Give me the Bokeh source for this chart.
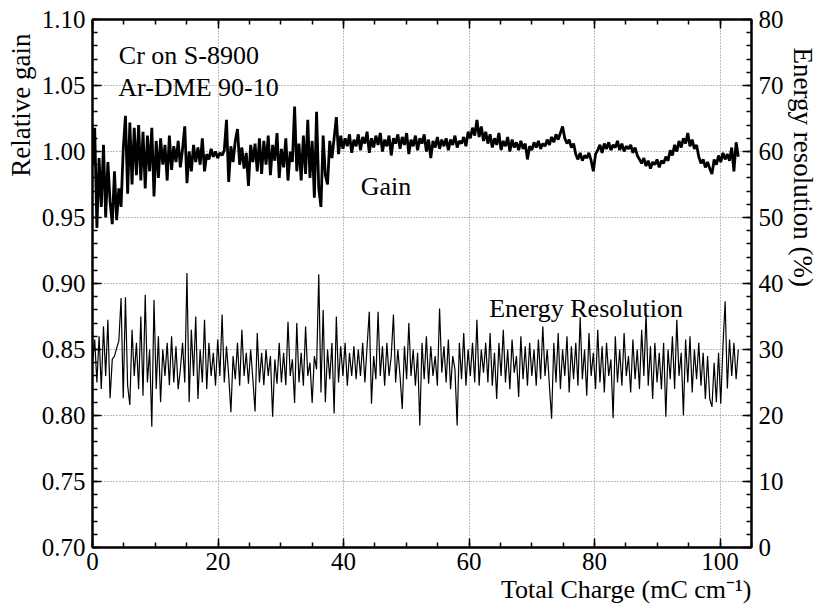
from bokeh.plotting import figure
from bokeh.models import (Range1d, LinearAxis, Label, SingleIntervalTicker,
                          NumeralTickFormatter, ColumnDataSource, Title)
from bokeh.embed import file_html
from bokeh.resources import INLINE

# ---------------- data ----------------
charge_step = 0.35  # mC/cm between successive samples

gain = [
    0.990, 1.018, 0.942, 0.995, 0.958, 1.005, 0.950, 0.992, 0.962, 0.945, 0.985, 0.948, 0.972, 0.958, 1.002, 1.027, 0.968, 1.022, 0.975, 1.018,
    0.982, 1.020, 0.978, 1.015, 0.972, 1.012, 0.985, 1.018, 0.966, 1.008, 0.980, 1.010, 0.990, 1.005, 0.978, 1.012, 0.986, 1.004, 0.992, 1.008,
    0.988, 1.002, 1.019, 0.976, 1.000, 0.985, 1.005, 0.992, 1.003, 0.990, 1.010, 0.985, 0.998, 0.994, 1.002, 0.996, 1.000, 0.995, 0.999, 0.997,
    1.001, 1.024, 0.977, 1.004, 0.992, 1.008, 1.017, 0.990, 1.003, 0.987, 0.999, 0.974, 1.005, 0.992, 1.006, 0.985, 1.010, 0.983, 1.008, 0.990,
    1.012, 0.982, 1.005, 0.993, 1.014, 0.980, 1.002, 0.988, 1.010, 0.978, 1.000, 0.992, 1.034, 0.985, 1.006, 0.978, 1.012, 0.983, 1.024, 0.980,
    1.008, 0.965, 1.030, 0.972, 0.958, 1.012, 0.982, 0.975, 1.008, 0.995, 1.010, 1.026, 0.998, 1.012, 1.002, 1.010, 1.004, 1.013, 0.999, 1.009,
    1.004, 1.013, 1.001, 1.011, 1.006, 1.015, 0.999, 1.010, 1.003, 1.012, 1.005, 1.014, 1.000, 1.009, 1.004, 1.012, 0.997, 1.010, 1.006, 1.013,
    1.002, 1.011, 1.005, 1.014, 0.998, 1.009, 1.004, 1.012, 1.001, 1.010, 1.006, 1.013, 1.000, 1.009, 0.995, 1.008, 1.003, 1.011, 1.002, 1.009,
    1.004, 1.010, 1.001, 1.009, 1.005, 1.012, 1.003, 1.008, 1.006, 1.011, 1.004, 1.015, 1.010, 1.018, 1.012, 1.024, 1.011, 1.019, 1.008, 1.015,
    1.006, 1.013, 1.003, 1.010, 1.005, 1.014, 1.001, 1.008, 1.004, 1.011, 1.000, 1.009, 1.003, 1.007, 1.001, 1.008, 1.002, 1.006, 0.994, 1.004,
    1.001, 1.007, 1.003, 1.008, 1.002, 1.006, 1.004, 1.009, 1.005, 1.011, 1.007, 1.013, 1.009, 1.014, 1.019, 1.010, 1.006, 1.009, 1.003, 1.006,
    0.998, 0.994, 0.999, 0.993, 0.997, 0.995, 0.999, 0.993, 0.985, 0.998, 1.001, 1.005, 0.999, 1.006, 1.002, 1.007, 1.001, 1.005, 1.003, 1.008,
    1.001, 1.006, 1.000, 1.004, 1.002, 1.005, 0.999, 1.003, 0.997, 0.994, 0.991, 0.995, 0.989, 0.993, 0.987, 0.992, 0.990, 0.994, 0.988, 0.993,
    0.991, 0.996, 0.993, 1.001, 0.997, 1.005, 1.000, 1.008, 1.003, 1.010, 1.006, 1.014, 1.004, 1.009, 1.002, 1.005, 0.996, 0.991, 0.994, 0.988,
    0.992, 0.987, 0.983, 0.994, 0.990, 0.997, 0.992, 0.999, 0.994, 0.998, 0.993, 1.003, 0.985, 1.007, 0.996,
]

energy_resolution = [
    28.0, 31.5, 25.0, 32.0, 24.0, 33.5, 26.0, 34.5, 22.6, 28.5, 29.0, 30.2, 31.3, 37.8, 22.6, 37.9, 24.5, 21.6, 33.0, 26.0,
    31.0, 24.0, 35.0, 23.0, 38.3, 25.0, 30.0, 18.3, 37.5, 24.0, 32.0, 22.0, 30.0, 26.0, 31.0, 24.6, 32.0, 25.0, 30.5, 24.0,
    27.0, 31.0, 25.0, 41.6, 22.0, 33.0, 26.0, 35.0, 22.5, 30.0, 25.0, 34.5, 24.0, 31.0, 26.0, 29.5, 24.5, 31.5, 26.0, 35.3,
    25.0, 30.5, 26.0, 20.5, 29.0, 25.5, 31.0, 24.5, 33.0, 26.0, 29.5, 24.8, 30.0, 25.5, 20.6, 32.5, 25.0, 29.5, 24.6, 30.0,
    26.0, 29.0, 19.8, 28.5, 24.8, 31.0, 25.0, 29.5, 24.6, 34.2, 26.0, 28.5, 21.9, 34.0, 25.0, 29.5, 24.5, 33.5, 26.0, 28.0,
    21.9, 29.0, 27.0, 41.4, 23.5, 36.0, 22.0, 30.0, 25.5, 31.0, 20.3, 35.0, 25.0, 30.5, 26.0, 31.0, 24.5, 29.5, 26.0, 30.5,
    25.5, 30.0, 26.0, 31.0, 25.0, 30.5, 35.7, 21.8, 29.0, 25.5, 35.7, 26.0, 30.5, 24.5, 31.0, 26.0, 29.0, 35.3, 25.0, 30.0,
    26.0, 21.0, 30.5, 25.5, 34.0, 26.0, 30.0, 24.5, 29.5, 18.5, 31.0, 25.5, 32.0, 24.8, 30.5, 26.0, 29.0, 24.5, 36.2, 26.5,
    30.5, 25.0, 31.5, 24.0, 29.0, 27.0, 18.5, 31.0, 25.5, 32.5, 24.5, 30.0, 26.0, 31.0, 25.0, 34.5, 24.5, 30.0, 26.5, 31.0,
    25.0, 32.5, 24.5, 29.5, 22.5, 31.0, 26.0, 33.0, 25.0, 30.0, 24.0, 31.5, 26.5, 29.0, 22.8, 32.0, 25.5, 30.5, 24.5, 31.0,
    26.0, 30.0, 24.5, 31.5, 25.5, 33.5, 26.0, 30.0, 24.5, 19.5, 31.0, 25.0, 32.5, 24.0, 30.0, 26.0, 32.0, 23.5, 30.5, 25.5,
    31.0, 24.5, 34.9, 25.5, 30.0, 23.0, 32.5, 26.0, 29.5, 24.0, 33.0, 25.0, 30.5, 23.5, 31.0, 26.0, 28.5, 19.6, 32.0, 25.0,
    30.0, 24.5, 32.5, 26.0, 29.0, 23.5, 31.5, 25.5, 30.0, 24.0, 33.0, 26.0, 35.5, 24.5, 30.5, 22.5, 31.0, 25.0, 29.5, 24.0,
    31.0, 19.8, 30.0, 25.5, 32.0, 24.0, 34.5, 26.0, 29.5, 20.0, 31.5, 25.0, 32.0, 23.5, 30.0, 25.5, 31.0, 24.5, 29.5, 22.5,
    29.0, 22.5, 21.3, 28.0, 22.0, 29.5, 21.8, 30.5, 37.3, 24.1, 31.5, 26.0, 31.0, 25.5, 30.0,
]

gain_charge = [round(i * charge_step, 3) for i in range(len(gain))]
er_charge = [round(i * charge_step, 3) for i in range(len(energy_resolution))]

x_range_limits = (0, 105)
gain_range_limits = (0.70, 1.10)
er_range_limits = (0, 80)

annotations = ["Cr on S-8900", "Ar-DME 90-10", "Gain", "Energy Resolution"]
x_title = "Total Charge (mC cm\u207b\u00b9)"
left_title = "Relative gain"
right_title = "Energy resolution (%)"

# ---------------- figure ----------------
FONT = "Liberation Serif"

p = figure(width=822, height=610,
           x_range=Range1d(*x_range_limits), y_range=Range1d(*gain_range_limits),
           output_backend="svg", toolbar_location=None,
           min_border_left=92, min_border_right=71, min_border_top=19, min_border_bottom=63,
           background_fill_color="white", border_fill_color="white")
p.outline_line_color = "black"
p.outline_line_width = 2
p.extra_y_ranges = {"er": Range1d(*er_range_limits)}


def style_axis(ax, show_labels=True):
    ax.axis_line_width = 2
    ax.axis_line_color = "black"
    ax.major_tick_in = 9
    ax.major_tick_out = 0
    ax.minor_tick_in = 5
    ax.minor_tick_out = 0
    ax.major_tick_line_width = 1.5
    ax.minor_tick_line_width = 1.5
    ax.major_tick_line_color = "black"
    ax.minor_tick_line_color = "black"
    ax.major_label_text_font = FONT
    ax.major_label_text_font_size = "25px"
    ax.major_label_text_color = "black" if show_labels else None


xax = p.xaxis[0]
xax.ticker = SingleIntervalTicker(interval=20, num_minor_ticks=4)
style_axis(xax)
xax.major_label_standoff = 5

yax = p.yaxis[0]
yax.ticker = SingleIntervalTicker(interval=0.05, num_minor_ticks=5)
yax.formatter = NumeralTickFormatter(format="0.00")
style_axis(yax)
yax.major_label_standoff = 7

rax = LinearAxis(y_range_name="er",
                 ticker=SingleIntervalTicker(interval=10, num_minor_ticks=5))
style_axis(rax)
rax.major_label_standoff = 7
p.add_layout(rax, "right")

tax = LinearAxis(ticker=SingleIntervalTicker(interval=20, num_minor_ticks=4))
style_axis(tax, show_labels=False)
tax.major_label_text_font_size = "1px"
tax.major_label_standoff = 0
p.add_layout(tax, "above")

for g in (p.xgrid[0], p.ygrid[0]):
    g.grid_line_color = "#7a7a7a"
    g.grid_line_dash = "1 2"
    g.grid_line_width = 1
p.xgrid[0].ticker = xax.ticker
p.ygrid[0].ticker = yax.ticker

src_gain = ColumnDataSource(dict(x=gain_charge, y=gain))
src_er = ColumnDataSource(dict(x=er_charge, y=energy_resolution))
p.line("x", "y", source=src_er, y_range_name="er", line_color="black", line_width=1.2)
p.line("x", "y", source=src_gain, line_color="black", line_width=2.8)


# axis titles, aligned to the upper / right end of each axis
def add_title(text, side, align, standoff, offset=0, size="26px"):
    p.add_layout(Title(text=text, align=align, text_font=FONT, text_font_size=size,
                       text_font_style="normal", text_color="black",
                       standoff=standoff, offset=offset), side)

add_title(x_title, "below", "right", 0)
add_title(left_title, "left", "right", 6, offset=14, size="27px")
add_title(right_title, "right", "left", 3, offset=28, size="27px")

# ---------------- text annotations ----------------
def add_label(x, y, text, size="26px"):
    p.add_layout(Label(x=x, y=y, text=text, text_font=FONT, text_font_size=size,
                       text_color="black", text_baseline="alphabetic", text_align="left"))

add_label(4.2, 1.0726, annotations[0])
add_label(4.1, 1.0483, annotations[1])
add_label(42.75, 0.9738, annotations[2])
add_label(63.2, 0.8808, annotations[3])

open("out.html", "w").write(file_html(p, INLINE))
